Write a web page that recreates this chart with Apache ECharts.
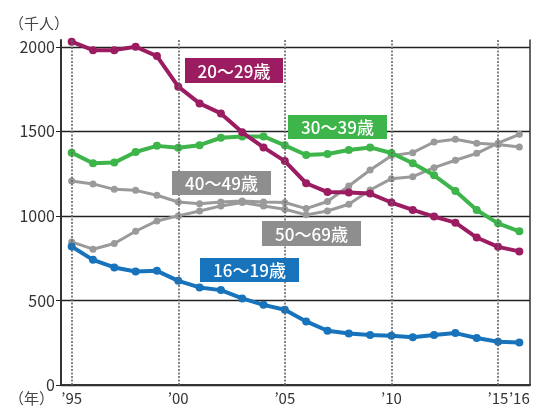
<!DOCTYPE html>
<html>
<head>
<meta charset="utf-8">
<script src="https://cdn.jsdelivr.net/npm/echarts@6/dist/echarts.min.js"></script>
<style>
html,body{margin:0;padding:0;background:#fff;}
#chart{width:533px;height:406px;}
</style>
</head>
<body>
<div id="chart"></div>
<script>
// 年
var years = ['1995','1996','1997','1998','1999','2000','2001','2002','2003','2004','2005',
             '2006','2007','2008','2009','2010','2011','2012','2013','2014','2015','2016'];
var labelYears = ['1995','2000','2005','2010','2015','2016'];
var gridYears = ['1995','2000','2005','2010','2015'];

// 千人
var age16_19 = [819,740,695,671,675,616,577,561,512,474,445,376,321,305,295,291,282,295,307,278,256,252];
var age20_29 = [2030,1980,1980,2000,1945,1764,1665,1606,1494,1405,1324,1193,1141,1138,1132,1079,1035,996,960,872,817,790];
var age30_39 = [1374,1311,1315,1378,1414,1403,1418,1462,1470,1470,1417,1360,1366,1390,1405,1372,1311,1240,1147,1035,956,909];
var age40_49 = [1206,1189,1157,1151,1122,1082,1072,1082,1088,1082,1079,1043,1085,1177,1271,1356,1374,1437,1453,1429,1422,1407];
var age50_69 = [846,803,837,909,970,1000,1029,1059,1079,1059,1039,1006,1029,1069,1153,1220,1232,1285,1329,1370,1430,1482];

var names = ['16〜19歳','20〜29歳','30〜39歳','40〜49歳','50〜69歳'];
var colors = ['#1773bb','#9b1c61','#3db54a','#9a9a9a','#9a9a9a'];

var myChart = echarts.init(document.getElementById('chart'));

function lineSeries(name, data, color, width, z){
    return {
        name: name,
        type: 'line',
        data: data,
        z: z,
        symbol: 'circle',
        symbolSize: width > 3 ? 8 : 7,
        lineStyle: {color: color, width: width},
        itemStyle: {color: color},
        silent: true
    }
}

function box(x, y, w, h, fill, text){
    return [{
        type: 'rect',
        shape: {x: x, y: y, width: w, height: h},
        style: {fill: fill},
        z: 100
    }, {
        type: 'text',
        x: x + w / 2,
        y: y + h / 2 + 1,
        style: {
            text: text,
            fill: '#fff',
            font: '500 17px "Noto Sans CJK JP"',
            align: 'center',
            verticalAlign: 'middle'
        },
        z: 101
    }]
}

var graphics = [].concat(
    box(185, 58, 98, 25, colors[1], names[1]),
    box(288, 115, 99, 24, colors[2], names[2]),
    box(172, 171, 99, 24, '#8e8e8e', names[3]),
    box(262, 221, 99, 25, '#8e8e8e', names[4]),
    box(200, 258, 99, 24, colors[0], names[0]),
    [{
        type: 'text', left: 9, top: 16,
        style: {text: '（千人）', fill: '#444', font: '15px "Noto Sans CJK JP"'}
    }, {
        type: 'text', left: 9, top: 391,
        style: {text: '（年）', fill: '#444', font: '15px "Noto Sans CJK JP"'}
    }]
);

myChart.setOption({
    animation: false,
    grid: {left: 61, right: 3, top: 40, bottom: 20},
    xAxis: {
        type: 'category',
        data: years,
        boundaryGap: true,
        axisLine: {lineStyle: {color: '#333', width: 2}},
        axisTick: {show: false},
        axisLabel: {
            interval: 0,
            margin: 6,
            color: '#333',
            fontSize: 15,
            fontFamily: 'Noto Sans CJK JP',
            formatter: function(v){
                return labelYears.indexOf(v) >= 0 ? '’' + v.slice(2) : ''
            }
        },
        splitLine: {show: false}
    },
    yAxis: [{
        type: 'value',
        min: 0,
        max: 2040,
        interval: 500,
        axisLine: {show: true, lineStyle: {color: '#333', width: 2}},
        axisTick: {show: true, length: 5, lineStyle: {color: '#222'}},
        axisLabel: {
            color: '#333',
            fontSize: 16,
            margin: 6,
            fontFamily: 'Noto Sans CJK JP',
            showMaxLabel: false,
            formatter: function(v){ return v % 500 === 0 ? String(v) : '' }
        },
        splitLine: {show: true, lineStyle: {color: ['#222','#222','#222','#222','#222','transparent'], width: 1.3}}
    }, {
        type: 'value',
        position: 'right',
        min: 0,
        max: 2040,
        interval: 500,
        axisLine: {show: true, lineStyle: {color: '#333', width: 1.5}},
        axisTick: {show: false},
        axisLabel: {show: false},
        splitLine: {show: false}
    }],
    series: [
        {
            type: 'line',
            data: [],
            silent: true,
            markLine: {
                symbol: 'none',
                silent: true,
                label: {show: false},
                lineStyle: {color: '#666', type: [2, 1.5], width: 1.6},
                data: gridYears.map(function(y){ return {xAxis: y} })
            }
        },
        lineSeries(names[3], age40_49, colors[3], 3, 2),
        lineSeries(names[4], age50_69, colors[4], 3, 2),
        lineSeries(names[0], age16_19, colors[0], 4, 3),
        lineSeries(names[2], age30_39, colors[2], 4, 3),
        lineSeries(names[1], age20_29, colors[1], 4, 4)
    ],
    graphic: graphics
});
</script>
</body>
</html>
